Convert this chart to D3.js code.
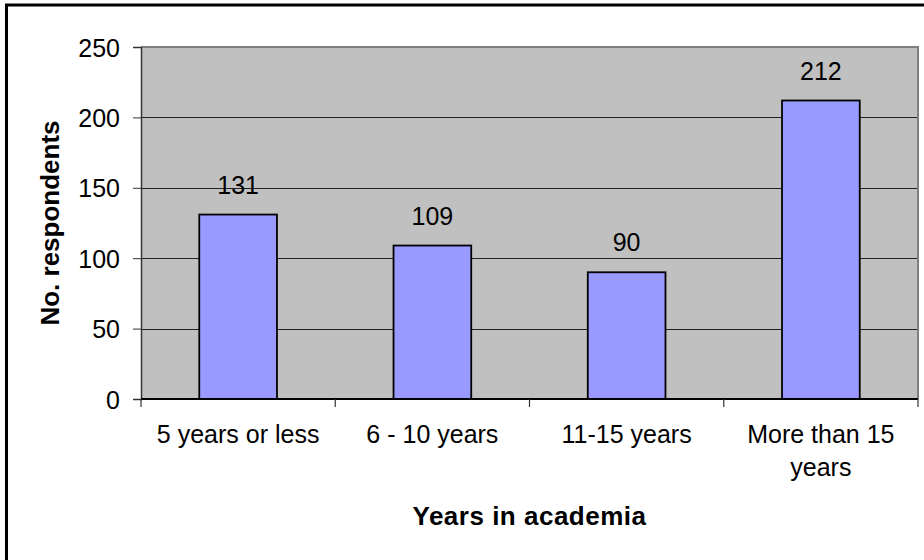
<!DOCTYPE html>
<html>
<head>
<meta charset="utf-8">
<script src="https://cdn.jsdelivr.net/npm/d3@7"></script>
<style>
  html, body { margin: 0; padding: 0; background: #fff; }
  svg { display: block; font-family: "Liberation Sans", Arial, sans-serif; }
</style>
</head>
<body>
<svg id="chart" width="924" height="560"></svg>
<script>
const categories = ["5 years or less", "6 - 10 years", "11-15 years", "More than 15\nyears"];
const values = [131, 109, 90, 212];
const yTicks = [0, 50, 100, 150, 200, 250];
const yTitle = "No. respondents";
const xTitle = "Years in academia";

const svg = d3.select("#chart");
const W = 924, H = 560;
const plot = { left: 141, right: 918, top: 47, bottom: 399 };

// outer frame (right & bottom edges are cropped off)
svg.append("rect")
  .attr("x", 6.5).attr("y", 5).attr("width", 1000).attr("height", 1000)
  .attr("fill", "none").attr("stroke", "#000").attr("stroke-width", 3);

const y = d3.scaleLinear().domain([0, 250]).range([plot.bottom, plot.top]);
const xBand = d3.scaleBand().domain(categories).range([plot.left, plot.right]).padding(0);
const xBar = d3.scaleBand().domain(categories).range([plot.left, plot.right])
  .paddingInner(0.6).paddingOuter(0.3);

// plot background
svg.append("rect")
  .attr("x", plot.left).attr("y", plot.top)
  .attr("width", plot.right - plot.left).attr("height", plot.bottom - plot.top)
  .attr("fill", "#C0C0C0");

// gridlines
svg.append("g").selectAll("line")
  .data(yTicks.filter(t => t > 0 && t < 250))
  .join("line")
  .attr("x1", plot.left).attr("x2", plot.right)
  .attr("y1", d => Math.round(y(d)) + 0.5).attr("y2", d => Math.round(y(d)) + 0.5)
  .attr("stroke", "#222").attr("stroke-width", 1);

// plot border top & right (gray)
svg.append("path")
  .attr("d", `M${plot.left},${plot.top} H${plot.right} V${plot.bottom}`)
  .attr("fill", "none").attr("stroke", "#808080").attr("stroke-width", 2);

// bars
svg.append("g").selectAll("rect")
  .data(values)
  .join("rect")
  .attr("x", (d, i) => xBar(categories[i]))
  .attr("y", d => y(d))
  .attr("width", xBar.bandwidth())
  .attr("height", d => plot.bottom - y(d))
  .attr("fill", "#9999FF")
  .attr("stroke", "#000").attr("stroke-width", 1.8);

// value labels
svg.append("g").selectAll("text")
  .data(values)
  .join("text")
  .attr("x", (d, i) => xBar(categories[i]) + xBar.bandwidth() / 2)
  .attr("y", d => y(d) - 21)
  .attr("text-anchor", "middle")
  .attr("font-size", 25)
  .attr("fill", "#000")
  .text(d => d);

// y axis
const yAxis = d3.axisLeft(y).tickValues(yTicks).tickSize(8).tickPadding(13).tickFormat(d3.format("d"));
const gy = svg.append("g").attr("transform", `translate(${plot.left},0)`).call(yAxis);
gy.select(".domain").attr("stroke", "#333").attr("stroke-width", 1.5);
gy.selectAll(".tick line").attr("stroke", "#333");
gy.selectAll(".tick text").attr("font-size", 25).attr("font-family", "Liberation Sans, Arial, sans-serif").attr("fill", "#000").attr("dy", "0.36em");

// x axis line
svg.append("line")
  .attr("x1", plot.left).attr("x2", plot.right)
  .attr("y1", plot.bottom).attr("y2", plot.bottom)
  .attr("stroke", "#000").attr("stroke-width", 1.8);

// x ticks at category boundaries
const boundaries = categories.map(c => xBand(c)).concat([xBand(categories[categories.length - 1]) + xBand.bandwidth()]);
svg.append("g").selectAll("line")
  .data(boundaries)
  .join("line")
  .attr("x1", d => d).attr("x2", d => d)
  .attr("y1", plot.bottom).attr("y2", plot.bottom + 8)
  .attr("stroke", "#333").attr("stroke-width", 1.2);

// x labels
const xl = svg.append("g").selectAll("text")
  .data(categories)
  .join("text")
  .attr("x", d => xBand(d) + xBand.bandwidth() / 2)
  .attr("y", 443)
  .attr("text-anchor", "middle")
  .attr("font-size", 25)
  .attr("fill", "#000");
xl.each(function(d) {
  const t = d3.select(this);
  d.split("\n").forEach((line, i) => {
    t.append("tspan")
      .attr("x", xBand(d) + xBand.bandwidth() / 2)
      .attr("dy", i === 0 ? 0 : 33)
      .text(line);
  });
});

// axis titles
svg.append("text")
  .attr("transform", `translate(59,${(plot.top + plot.bottom) / 2}) rotate(-90)`)
  .attr("text-anchor", "middle")
  .attr("font-size", 26).attr("font-weight", "bold")
  .text(yTitle);

svg.append("text")
  .attr("x", (plot.left + plot.right) / 2)
  .attr("y", 525)
  .attr("text-anchor", "middle")
  .attr("font-size", 26).attr("font-weight", "bold")
  .attr("letter-spacing", 0.5)
  .text(xTitle);
</script>
</body>
</html>
